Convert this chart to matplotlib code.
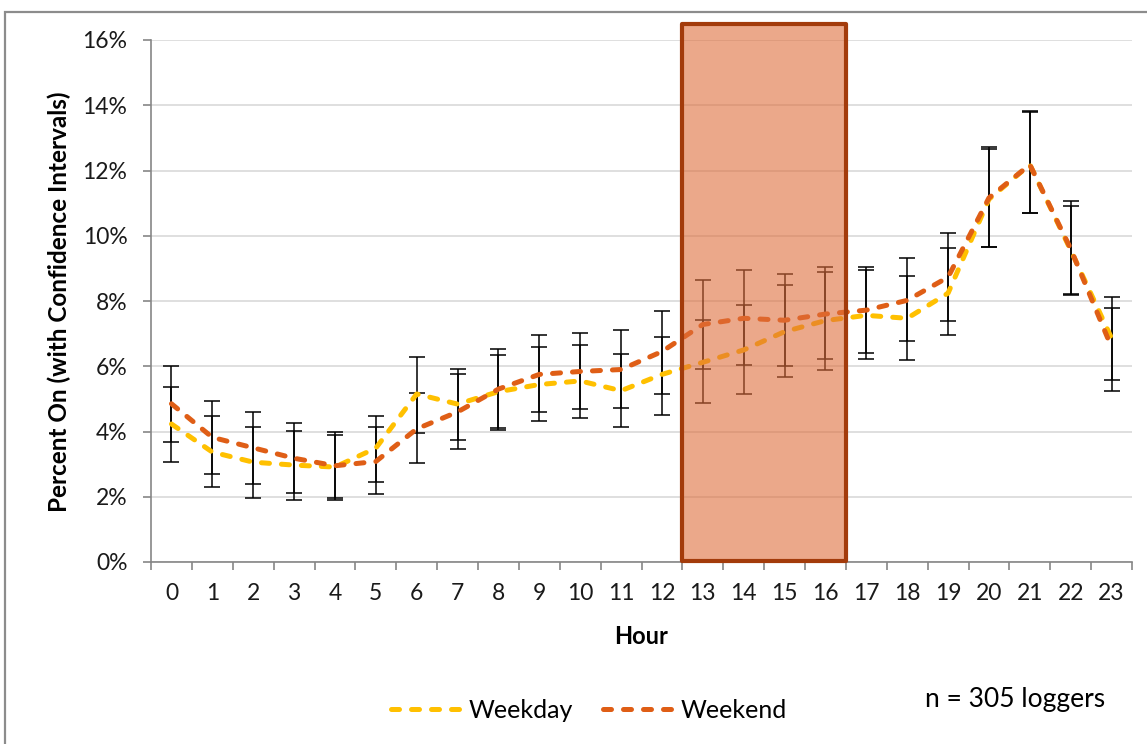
import matplotlib.pyplot as plt
import numpy as np
from matplotlib.patches import Rectangle
from matplotlib.lines import Line2D
from matplotlib.ticker import PercentFormatter, FixedLocator

plt.rcParams['font.family'] = ['Lato', 'DejaVu Sans']

# hourly share of loggers on, in percent
hours = list(range(24))
weekday = [4.23, 3.37, 3.06, 2.97, 2.91, 3.49, 5.15, 4.84, 5.22, 5.44, 5.55, 5.25,
           5.75, 6.12, 6.50, 7.06, 7.40, 7.56, 7.47, 8.24, 11.12, 12.18, 9.56, 6.86]
weekend = [4.85, 3.82, 3.50, 3.18, 2.95, 3.08, 4.08, 4.60, 5.30, 5.75, 5.84, 5.90,
           6.45, 7.28, 7.47, 7.41, 7.60, 7.72, 8.02, 8.73, 11.16, 12.18, 9.60, 6.58]

# confidence intervals (lower / upper bounds, percent)
weekday_lo = [3.07, 2.29, 1.97, 1.89, 1.89, 2.44, 3.94, 3.74, 4.05, 4.33, 4.41, 4.13,
              4.51, 4.87, 5.15, 5.66, 5.90, 6.21, 6.18, 6.96, 9.64, 10.70, 8.18, 5.58]
weekday_hi = [5.35, 4.48, 4.13, 4.01, 3.90, 4.48, 6.29, 5.93, 6.33, 6.60, 6.65, 6.37,
              6.91, 7.42, 7.89, 8.48, 8.90, 8.96, 8.77, 9.63, 12.65, 13.80, 10.91, 8.13]
weekend_lo = [3.67, 2.69, 2.40, 2.12, 1.95, 2.09, 3.03, 3.47, 4.11, 4.60, 4.69, 4.72,
              5.15, 5.93, 6.05, 6.01, 6.21, 6.41, 6.76, 7.38, 9.66, 10.70, 8.21, 5.24]
weekend_hi = [6.02, 4.92, 4.59, 4.25, 4.00, 4.13, 5.19, 5.75, 6.52, 6.95, 7.03, 7.11,
              7.70, 8.63, 8.94, 8.82, 9.04, 9.04, 9.32, 10.09, 12.72, 13.82, 11.07, 7.78]

# peak-period hours highlighted with a box
peak_start, peak_end, peak_top = 13, 16, 16.5

c_weekday = '#FFC000'
c_weekend = '#DF5E16'

fig = plt.figure(figsize=(11.47, 7.44), dpi=100)
ax = fig.add_axes([151 / 1147, 1 - 562 / 744, (1132 - 151) / 1147, (562 - 40) / 744])

# outer chart border
fig.add_artist(Rectangle((5 / 1147, -0.1), 1.2, 1.1 - 12 / 744, transform=fig.transFigure,
                         fill=False, edgecolor='#8C8C8C', lw=1.6))

x = np.array(hours)
for mean, lo, hi in [(weekday, weekday_lo, weekday_hi), (weekend, weekend_lo, weekend_hi)]:
    mean = np.array(mean)
    err = [mean - np.array(lo), np.array(hi) - mean]
    ax.errorbar(x, mean, yerr=err, fmt='none', ecolor='black', elinewidth=1.1,
                capsize=6, capthick=1.1, zorder=2)

dash = (0, (1.6, 2.4))
lw = 3.6
ax.plot(x, weekday, color=c_weekday, lw=lw, linestyle=dash, dash_capstyle='round',
        solid_joinstyle='round', zorder=3)
ax.plot(x, weekend, color=c_weekend, lw=lw, linestyle=dash, dash_capstyle='round',
        solid_joinstyle='round', zorder=3)

# translucent fill over the peak hours, then an opaque outline
ax.add_patch(Rectangle((peak_start - 0.5, 0), peak_end - peak_start + 1, peak_top,
                       facecolor='#DE6E3C', alpha=0.6, edgecolor='none', zorder=4, clip_on=False))
ax.add_patch(Rectangle((peak_start - 0.5, 0.03), peak_end - peak_start + 1, peak_top - 0.03,
                       fill=False, edgecolor='#A33B0B', lw=3.0, zorder=5, clip_on=False,
                       joinstyle='round'))

ax.set_xlim(-0.5, 23.5)
ax.set_ylim(0, 16)
ax.set_yticks(range(0, 17, 2))
ax.yaxis.set_major_formatter(PercentFormatter(decimals=0))
ax.set_xticks(hours)
ax.set_xticklabels([str(h) for h in hours])
ax.xaxis.set_minor_locator(FixedLocator(np.arange(-0.5, 24, 1)))

ax.tick_params(axis='x', which='major', length=0, pad=15, labelsize=16.5, labelcolor='#1a1a1a')
ax.tick_params(axis='x', which='minor', length=6, color='#868686', width=1.2)
ax.tick_params(axis='y', length=6, color='#868686', width=1.2, pad=11, labelsize=16.5,
               labelcolor='#1a1a1a')

ax.yaxis.grid(True, color='#D9D9D9', lw=1.2)
ax.set_axisbelow(True)
for s in ['top', 'right']:
    ax.spines[s].set_visible(False)
for s in ['left', 'bottom']:
    ax.spines[s].set_color('#868686')
    ax.spines[s].set_linewidth(1.2)

fig.text(59 / 1147, 1 - 302 / 744, 'Percent On (with Confidence Intervals)', rotation=90,
         ha='center', va='center', fontsize=17.5, fontweight='bold', color='black')
fig.text(641 / 1147, 1 - 636 / 744, 'Hour', ha='center', va='center', fontsize=17,
         fontweight='bold', color='black')

handles = [Line2D([], [], color=c_weekday, lw=lw, linestyle=dash, dash_capstyle='round'),
           Line2D([], [], color=c_weekend, lw=lw, linestyle=dash, dash_capstyle='round')]
fig.legend(handles, ['Weekday', 'Weekend'], loc='center', bbox_to_anchor=(589 / 1147, 1 - 710 / 744),
           ncol=2, frameon=False, fontsize=18, handlelength=3.0, handletextpad=0.1,
           columnspacing=1.2)
fig.text(925 / 1147, 1 - 700 / 744, 'n = 305 loggers', ha='left', va='center', fontsize=19,
         color='black')

plt.savefig('out.png', dpi=100)
